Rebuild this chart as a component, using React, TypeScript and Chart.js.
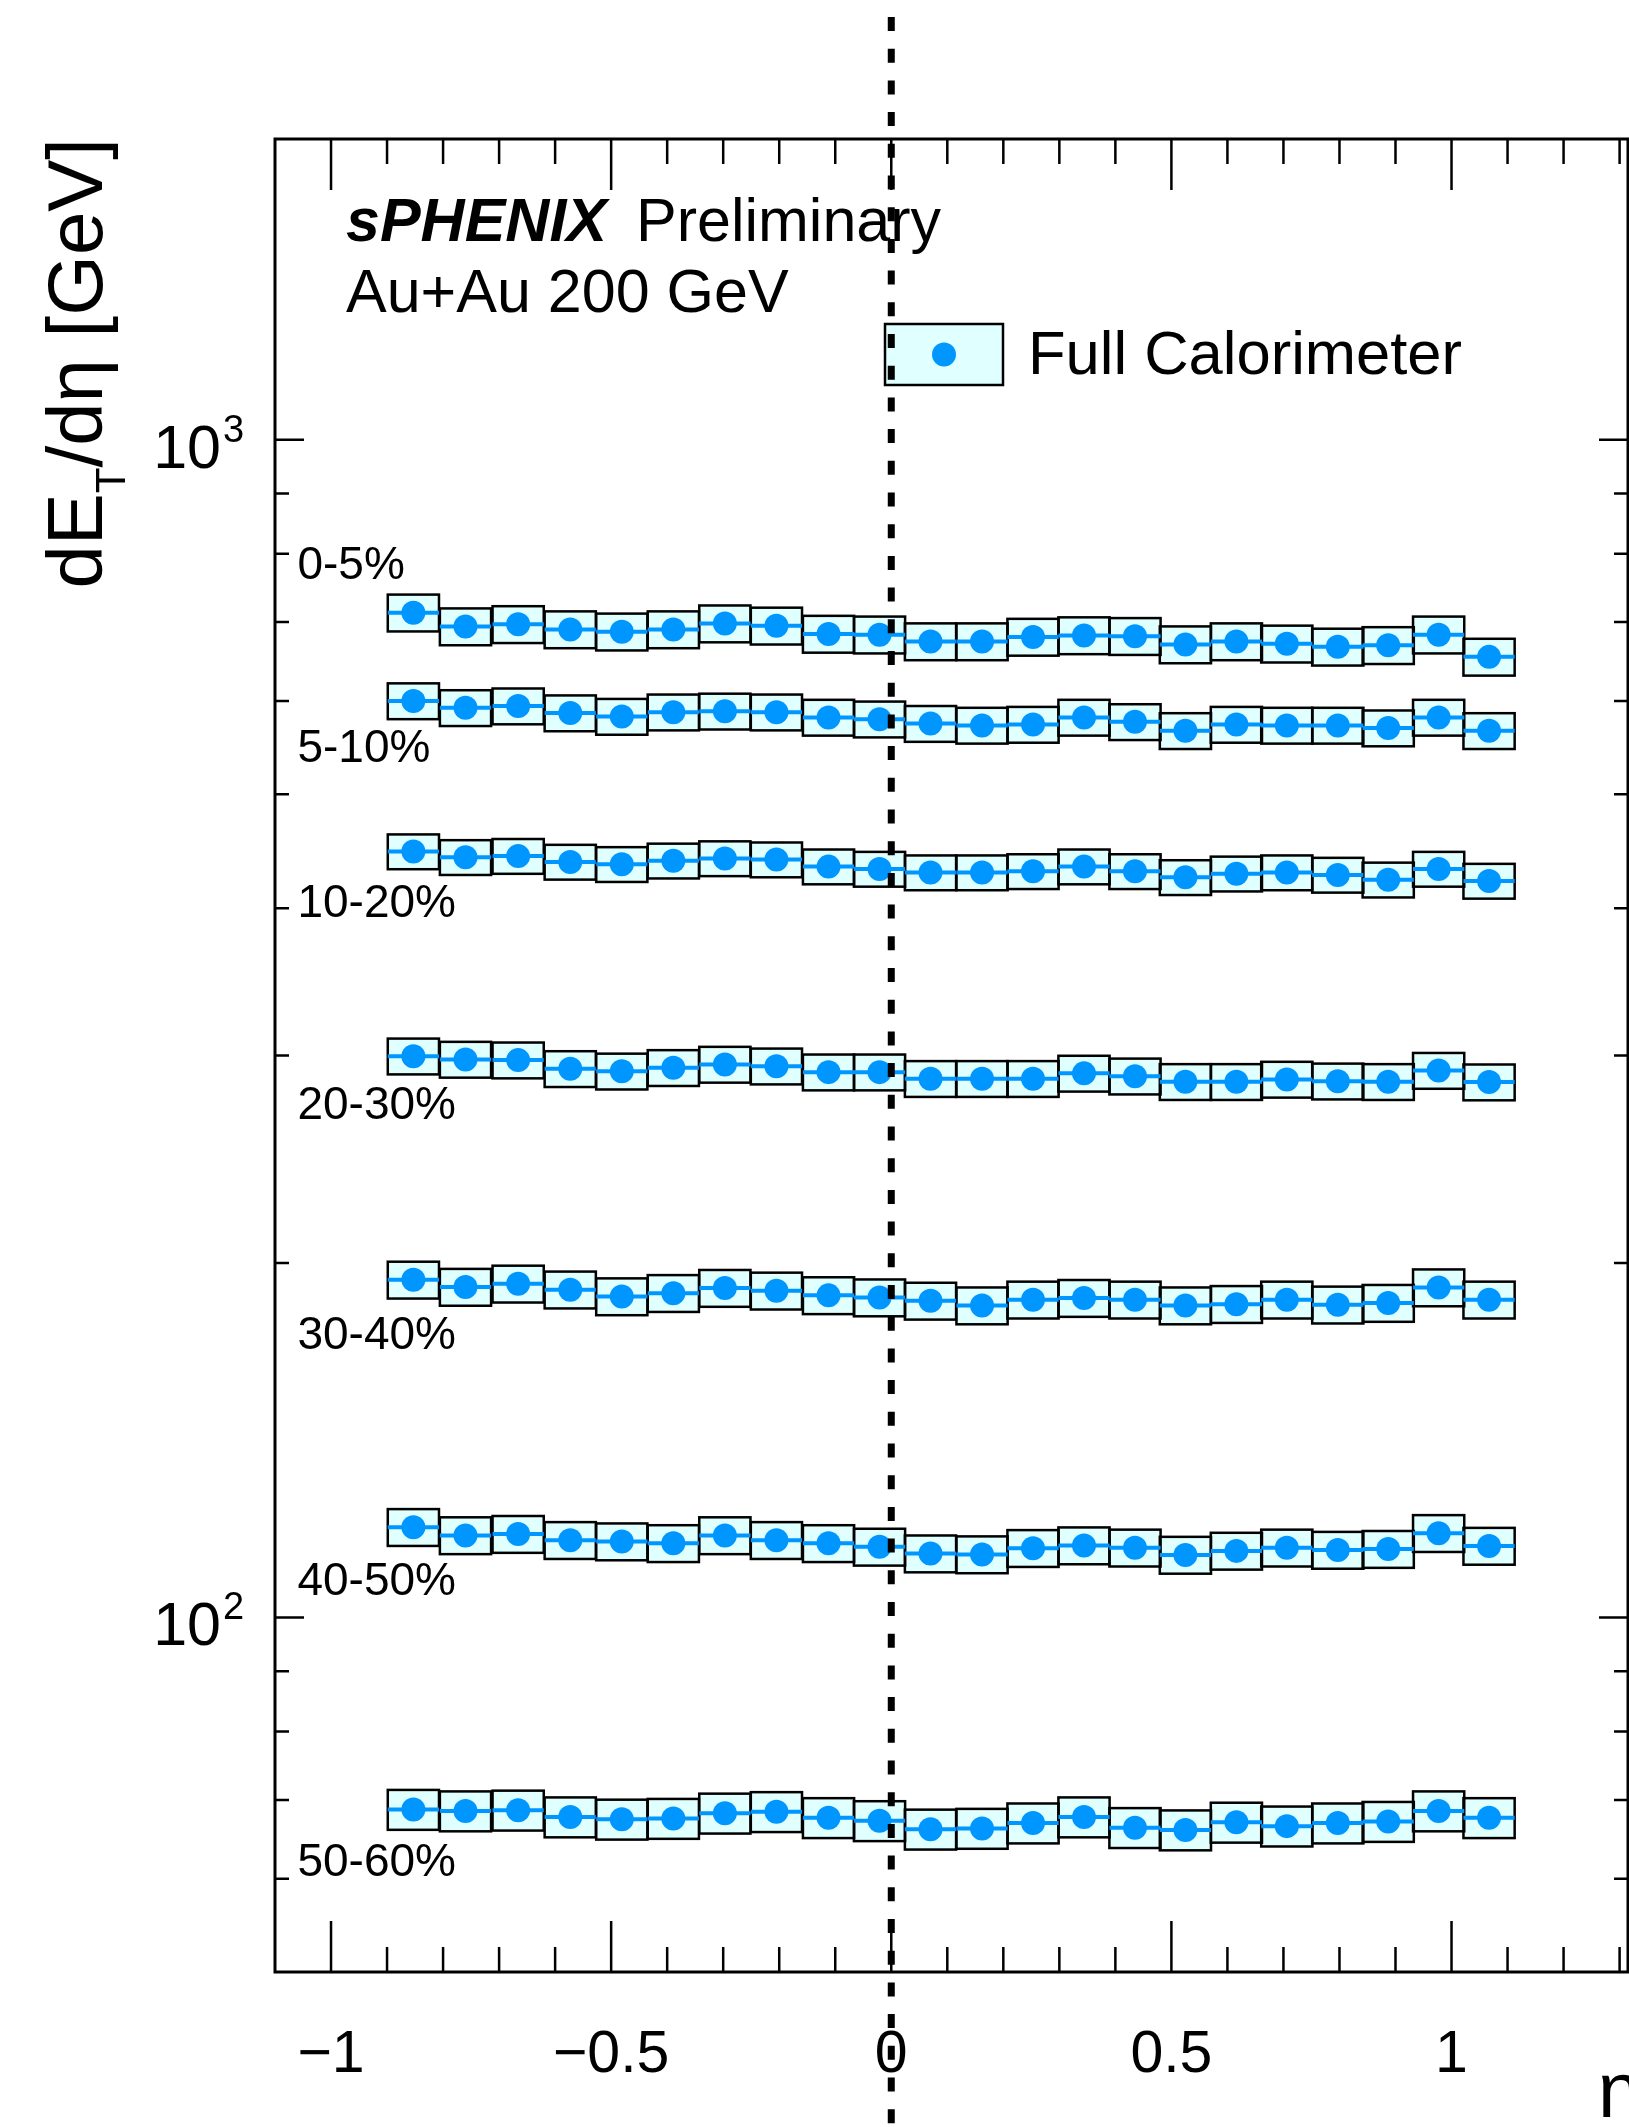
import React, { useEffect, useRef } from 'react';
import { Chart, registerables } from 'chart.js';

Chart.register(...registerables);

// Pseudorapidity bin centres
const etaCenters = [
  -0.853, -0.76, -0.666, -0.573, -0.481, -0.389, -0.297, -0.205, -0.112, -0.021, 0.07,
  0.162, 0.253, 0.344, 0.435, 0.525, 0.616, 0.706, 0.797, 0.887, 0.977, 1.067,
];
const binHalfWidth = 0.0457;

// dE_T/deta [GeV] per centrality class
const et_0_5 = [713, 694, 697, 690, 687, 690, 698, 695, 684, 683, 674, 674, 680, 682, 681, 670, 674, 671, 667, 669, 683, 654];
const et_5_10 = [600, 592, 594, 586, 582, 587, 588, 587, 581, 579, 574, 572, 573, 581, 576, 566, 573, 572, 572, 569, 581, 566];
const et_10_20 = [447, 442, 443, 438, 436, 439, 441, 440, 434, 432, 429, 429, 430, 434, 430, 425, 428, 429, 427, 423, 432, 422];
const et_20_30 = [299.6, 297.7, 297.3, 292.3, 290.9, 292.9, 294.8, 293.8, 290.4, 290.4, 286.7, 286.7, 286.7, 289.7, 288.1, 285.0, 285.0, 286.3, 285.3, 285.0, 291.3, 284.8];
const et_30_40 = [193.5, 190.8, 192.0, 189.8, 187.3, 188.5, 190.4, 189.4, 187.7, 186.9, 185.7, 184.0, 186.1, 186.7, 186.1, 184.0, 184.5, 186.1, 184.3, 184.9, 190.6, 186.1];
const et_40_50 = [119.3, 117.4, 117.7, 116.3, 116.0, 115.6, 117.4, 116.3, 115.6, 114.8, 113.3, 113.1, 114.5, 115.1, 114.6, 113.0, 113.9, 114.6, 114.1, 114.3, 117.9, 115.0];
const et_50_60 = [68.7, 68.5, 68.6, 67.7, 67.4, 67.5, 68.2, 68.4, 67.6, 67.2, 66.1, 66.2, 66.9, 67.7, 66.3, 66.0, 67.0, 66.5, 66.9, 67.1, 68.5, 67.6];

const centralityLabels = ['0-5%', '5-10%', '10-20%', '20-30%', '30-40%', '40-50%', '50-60%'];
const seriesValues = [et_0_5, et_5_10, et_10_20, et_20_30, et_30_40, et_40_50, et_50_60];
// relative systematic uncertainty (boxes)
const sysRel = [0.036, 0.035, 0.034, 0.035, 0.036, 0.036, 0.039];

const xMajorTicks = [-1, -0.5, 0, 0.5, 1];
const xTickLabels = ['\u22121', '\u22120.5', '0', '0.5', '1'];
const yMajorTicks = [100, 1000];
const yMajorLabels = ['2', '3'];

// annotation anchors for the centrality labels (eta, value at text baseline)
const labelEta = -1.06;
const labelBaselineValues = [761, 532, 393, 265, 169, 104.5, 60.3];

const FONT = '"Liberation Sans", Arial, Helvetica, sans-serif';
const BLUE = '#0096ff';
const BOX_FILL = '#e0ffff';

const rootStyle = {
  id: 'rootStyle',
  beforeDatasetsDraw(chart: any) {
    const { ctx } = chart;
    const xs = chart.scales.x;
    const ys = chart.scales.y;
    ctx.save();
    seriesValues.forEach((vals, si) => {
      const rel = sysRel[si];
      const rects = vals.map((v, i) => {
        const x0 = xs.getPixelForValue(etaCenters[i] - binHalfWidth);
        const x1 = xs.getPixelForValue(etaCenters[i] + binHalfWidth);
        const yt = ys.getPixelForValue(v * (1 + rel));
        const yb = ys.getPixelForValue(v * (1 - rel));
        return { x0, x1, yt, yb, yc: ys.getPixelForValue(v) };
      });
      ctx.fillStyle = BOX_FILL;
      rects.forEach((r) => ctx.fillRect(r.x0, r.yt, r.x1 - r.x0, r.yb - r.yt));
      ctx.strokeStyle = '#000';
      ctx.lineWidth = 2.5;
      rects.forEach((r) => ctx.strokeRect(r.x0, r.yt, r.x1 - r.x0, r.yb - r.yt));
      ctx.strokeStyle = BLUE;
      ctx.lineWidth = 4;
      rects.forEach((r) => {
        ctx.beginPath();
        ctx.moveTo(r.x0, r.yc);
        ctx.lineTo(r.x1, r.yc);
        ctx.stroke();
      });
    });
    ctx.restore();
  },
  afterDraw(chart: any) {
    const { ctx, chartArea } = chart;
    const xs = chart.scales.x;
    const ys = chart.scales.y;
    const { left, right, top, bottom } = chartArea;
    ctx.save();

    // frame
    ctx.strokeStyle = '#000';
    ctx.lineWidth = 3;
    ctx.strokeRect(left, top, right - left, bottom - top);

    // x ticks (top and bottom, pointing inwards)
    ctx.lineWidth = 2.5;
    for (let k = -11; k <= 14; k++) {
      const v = k / 10;
      if (v <= xs.min || v >= xs.max) continue;
      const px = xs.getPixelForValue(v);
      const len = k % 5 === 0 ? 51 : 25;
      ctx.beginPath();
      ctx.moveTo(px, bottom);
      ctx.lineTo(px, bottom - len);
      ctx.moveTo(px, top);
      ctx.lineTo(px, top + len);
      ctx.stroke();
    }

    // y ticks (left and right, pointing inwards)
    const yMinor = [60, 70, 80, 90, 200, 300, 400, 500, 600, 700, 800, 900];
    const drawYTick = (v: number, len: number) => {
      const py = ys.getPixelForValue(v);
      ctx.beginPath();
      ctx.moveTo(left, py);
      ctx.lineTo(left + len, py);
      ctx.moveTo(right, py);
      ctx.lineTo(right - len, py);
      ctx.stroke();
    };
    yMinor.forEach((v) => drawYTick(v, 14));
    yMajorTicks.forEach((v) => drawYTick(v, 29));

    // x tick labels
    ctx.fillStyle = '#000';
    ctx.font = `59px ${FONT}`;
    ctx.textAlign = 'center';
    ctx.textBaseline = 'alphabetic';
    xMajorTicks.forEach((v, i) => {
      ctx.fillText(xTickLabels[i], xs.getPixelForValue(v), 2072);
    });

    // y tick labels: 10^n
    yMajorTicks.forEach((v, i) => {
      const py = ys.getPixelForValue(v);
      ctx.font = `61px ${FONT}`;
      ctx.textAlign = 'right';
      ctx.fillText('10', 221, py + 28);
      ctx.font = `38px ${FONT}`;
      ctx.textAlign = 'left';
      ctx.fillText(yMajorLabels[i], 223, py + 2);
    });

    // y-axis title, rotated, flush with the top of the frame
    ctx.save();
    ctx.translate(102, top - 1);
    ctx.rotate(-Math.PI / 2);
    ctx.textAlign = 'left';
    const mainF = `78px ${FONT}`;
    const subF = `42px ${FONT}`;
    const parts: [string, string, number][] = [
      ['dE', mainF, 0],
      ['T', subF, 23],
      ['/d\u03b7 [GeV]', mainF, 0],
    ];
    let total = 0;
    parts.forEach(([t, f]) => {
      ctx.font = f;
      total += ctx.measureText(t).width;
    });
    let cx = -total;
    parts.forEach(([t, f, dy]) => {
      ctx.font = f;
      ctx.fillText(t, cx, dy);
      cx += ctx.measureText(t).width;
    });
    ctx.restore();

    // x-axis title
    ctx.font = `77px ${FONT}`;
    ctx.textAlign = 'left';
    ctx.fillText('\u03b7', 1598, 2117);

    // centrality labels
    ctx.font = `46px ${FONT}`;
    centralityLabels.forEach((t, i) => {
      ctx.fillText(t, xs.getPixelForValue(labelEta), ys.getPixelForValue(labelBaselineValues[i]));
    });

    // header text
    ctx.font = `italic bold 61px ${FONT}`;
    ctx.fillText('sPHENIX', 346, 241);
    ctx.font = `61px ${FONT}`;
    ctx.fillText('Preliminary', 636, 241);
    ctx.fillText('Au+Au 200 GeV', 346, 312);

    // legend
    ctx.fillStyle = BOX_FILL;
    ctx.fillRect(885, 324, 118, 61);
    ctx.strokeStyle = '#000';
    ctx.lineWidth = 2.5;
    ctx.strokeRect(885, 324, 118, 61);
    ctx.fillStyle = BLUE;
    ctx.beginPath();
    ctx.arc(944, 354.5, 12, 0, Math.PI * 2);
    ctx.fill();
    ctx.fillStyle = '#000';
    ctx.font = `61.5px ${FONT}`;
    ctx.fillText('Full Calorimeter', 1028, 374);

    // dashed line at eta = 0
    const x0 = xs.getPixelForValue(0);
    ctx.strokeStyle = '#000';
    ctx.lineWidth = 7;
    ctx.setLineDash([14, 17.7]);
    ctx.beginPath();
    ctx.moveTo(x0, 17);
    ctx.lineTo(x0, 2127);
    ctx.stroke();
    ctx.setLineDash([]);

    ctx.restore();
  },
};

export default function App() {
  const ref = useRef<HTMLCanvasElement>(null);

  useEffect(() => {
    if (!ref.current) return;
    const datasets = seriesValues.map((vals, si) => ({
      label: centralityLabels[si],
      data: vals.map((v, i) => ({ x: etaCenters[i], y: v })),
      pointRadius: 12,
      pointHoverRadius: 12,
      pointBackgroundColor: BLUE,
      pointBorderWidth: 0,
      showLine: false,
    }));
    const chart = new Chart(ref.current, {
      type: 'scatter',
      data: { datasets },
      options: {
        responsive: false,
        animation: false,
        devicePixelRatio: 1,
        events: [],
        layout: { padding: { left: 275, top: 139, right: 5, bottom: 155 } },
        scales: {
          x: { type: 'linear', min: -1.1, max: 1.315, display: false },
          y: { type: 'logarithmic', min: 50, max: 1800, display: false },
        },
        plugins: { legend: { display: false }, tooltip: { enabled: false } },
      },
      plugins: [rootStyle],
    } as any);
    return () => chart.destroy();
  }, []);

  return (
    <div
      style={{
        position: 'fixed',
        left: 0,
        top: 0,
        width: 1629,
        height: 2127,
        overflow: 'hidden',
        background: '#fff',
      }}
    >
      <canvas ref={ref} width={1640} height={2127} style={{ display: 'block', width: 1640, height: 2127 }} />
    </div>
  );
}
